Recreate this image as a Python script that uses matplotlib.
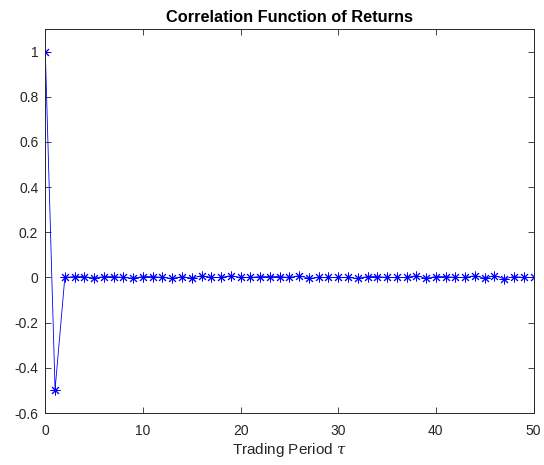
import matplotlib
matplotlib.use("Agg")
import matplotlib.pyplot as plt

plt.rcParams['font.family'] = ['Liberation Sans', 'DejaVu Sans']
plt.rcParams['axes.unicode_minus'] = False
plt.rcParams['mathtext.fontset'] = 'custom'
plt.rcParams['mathtext.it'] = 'DejaVu Serif:italic'

lags = list(range(0, 51))
acf = [1.0, -0.497,
       0.0, 0.004, 0.004, -0.003, 0.004, 0.004, 0.0, -0.003, 0.004, 0.004,
       0.0, -0.004, 0.004, -0.003, 0.008, 0.0, 0.0, 0.008, 0.0, 0.0,
       0.004, 0.004, 0.004, 0.0, 0.008, -0.004, 0.0, 0.0, 0.0, 0.0,
       -0.004, 0.004, 0.004, 0.0, 0.0, 0.0, 0.008, -0.004, 0.004, 0.004,
       0.0, 0.0, 0.008, -0.004, 0.008, -0.006, 0.004, 0.0, 0.0]

xticks = [0, 10, 20, 30, 40, 50]
yticks = [-0.6, -0.4, -0.2, 0, 0.2, 0.4, 0.6, 0.8, 1]
ytick_labels = ['-0.6', '-0.4', '-0.2', '0', '0.2', '0.4', '0.6', '0.8', '1']

fig = plt.figure(figsize=(5.44, 4.65), dpi=100)
ax = fig.add_axes([45.3 / 544, 1 - 413 / 465, (533.5 - 45.3) / 544, (413 - 29) / 465])

ax.plot(lags, acf, color=(0, 0, 1), linewidth=0.6, marker=(8, 2, 0), markersize=7,
        markeredgewidth=0.7)

ax.set_xlim(0, 50)
ax.set_ylim(-0.6, 1.1)
ax.set_xticks(xticks)
ax.set_yticks(yticks)
ax.set_yticklabels(ytick_labels)

axcol = '#262626'
for s in ax.spines.values():
    s.set_color(axcol)
    s.set_linewidth(0.7)
ax.tick_params(direction='in', top=True, right=True, length=4, width=0.6,
               colors=axcol, labelsize=10)
ax.tick_params(axis='y', pad=5)
ax.tick_params(axis='x', pad=8)

ax.set_title('Correlation Function of Returns', fontsize=11.8, fontweight='bold', pad=5)
ax.set_xlabel(r'Trading Period $\tau$', fontsize=11, color=axcol, labelpad=2)

fig.savefig('out.png', dpi=100)
